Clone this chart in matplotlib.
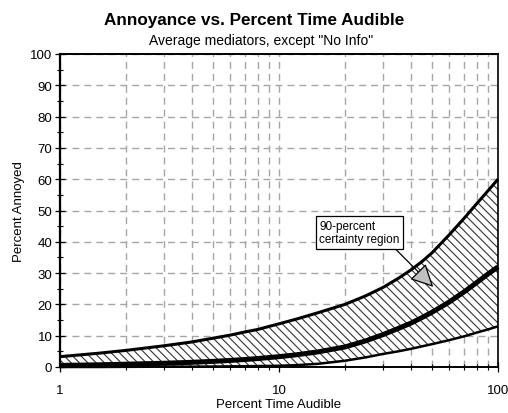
import matplotlib
matplotlib.use("Agg")
import matplotlib.pyplot as plt
from matplotlib.ticker import LogLocator, MultipleLocator, FixedLocator, FixedFormatter, NullFormatter

plt.rcParams['font.family'] = ['Liberation Sans', 'DejaVu Sans']
plt.rcParams['hatch.linewidth'] = 0.8
plt.rcParams['hatch.color'] = '#333333'

# Data
pct_time = [1, 1.5, 2, 3, 4, 5, 6, 7, 8, 10, 12, 15, 20, 25, 30, 35, 40, 45, 50, 60, 70, 80, 90, 100]
upper = [3.3, 4.4, 5.3, 6.8, 8.0, 9.2, 10.2, 11.2, 12.0, 13.8, 15.3, 17.3, 20.0, 22.8, 25.5, 28.3,
         31.0, 33.7, 36.5, 42.3, 47.5, 52.2, 56.3, 60.0]
middle = [0.5, 0.7, 0.9, 1.2, 1.5, 1.8, 2.1, 2.4, 2.7, 3.3, 3.9, 4.8, 6.4, 8.4, 10.4, 12.3,
          14.0, 15.8, 17.5, 20.8, 24.0, 27.0, 29.7, 32.0]
lower = [0.0, 0.0, 0.05, 0.1, 0.12, 0.15, 0.2, 0.25, 0.3, 0.4, 0.6, 1.0, 2.0, 3.1, 4.2, 5.0,
         5.8, 6.6, 7.3, 8.6, 9.8, 11.0, 12.0, 13.0]
x_ticks = [1, 10, 100]
x_tick_labels = ["1", "10", "100"]
y_ticks = list(range(0, 101, 10))

fig = plt.figure(figsize=(5.08, 4.14), dpi=100)
ax = fig.add_axes([60/508, 1-368/414, 438/508, 313/414])

ax.set_xscale('log')
ax.set_xlim(1, 100)
ax.set_ylim(0, 100)

# grid
grid_kw = dict(color='#a6a6a6', linewidth=1.0, linestyle=(0, (5, 3.6)))
ax.xaxis.set_major_locator(FixedLocator(x_ticks))
ax.xaxis.set_major_formatter(FixedFormatter(x_tick_labels))
ax.xaxis.set_minor_locator(LogLocator(base=10, subs=range(2, 10)))
ax.xaxis.set_minor_formatter(NullFormatter())
ax.yaxis.set_major_locator(FixedLocator(y_ticks))
ax.yaxis.set_minor_locator(MultipleLocator(5))
ax.grid(True, which='major', axis='both', **grid_kw)
ax.grid(True, which='minor', axis='x', **grid_kw)
ax.set_axisbelow(True)

# hatched region
ax.fill_between(pct_time, lower, upper, facecolor='white', edgecolor='#333333',
                hatch='\\\\\\\\', linewidth=0, zorder=2)

ax.plot(pct_time, upper, color='black', linewidth=2.2, zorder=3, clip_on=False, solid_capstyle='butt')
ax.plot(pct_time, middle, color='black', linewidth=3.6, zorder=3, clip_on=False, solid_capstyle='butt')
ax.plot(pct_time, lower, color='black', linewidth=1.8, zorder=3, clip_on=False, solid_capstyle='butt')

# annotation
ax.annotate('90-percent\ncertainty region', xy=(50.6, 25.6), xytext=(15.3, 43),
            fontsize=8.5, ha='left', va='center', zorder=5,
            bbox=dict(boxstyle='square,pad=0.3', fc='white', ec='black', lw=0.9),
            arrowprops=dict(arrowstyle='-|>,head_length=1.0,head_width=0.5', fc='#c0c0c0',
                            ec='black', lw=0.9, relpos=(0.9, 0.0), shrinkA=0, shrinkB=0,
                            mutation_scale=14))

# spines and ticks
for side, lw in [('left', 1.6), ('top', 1.4), ('right', 1.2), ('bottom', 1.4)]:
    ax.spines[side].set_linewidth(lw)
    ax.spines[side].set_color('black')
ax.tick_params(axis='both', which='major', direction='inout', length=7, width=0.9,
               labelsize=9.5)
ax.tick_params(axis='both', which='minor', direction='inout', length=5, width=0.8)
ax.tick_params(axis='x', which='major', pad=9)
ax.tick_params(axis='y', which='major', pad=2)

ax.set_xlabel('Percent Time Audible', fontsize=9.5, labelpad=1)
ax.set_ylabel('Percent Annoyed', fontsize=9.5, labelpad=4)

fig.text(0.5, 1-20/414, 'Annoyance vs. Percent Time Audible', ha='center', va='center',
         fontsize=12.3, fontweight='bold')
fig.text(0.513, 1-41/414, 'Average mediators, except "No Info"', ha='center', va='center',
         fontsize=10)

fig.savefig('out.png', dpi=100)
